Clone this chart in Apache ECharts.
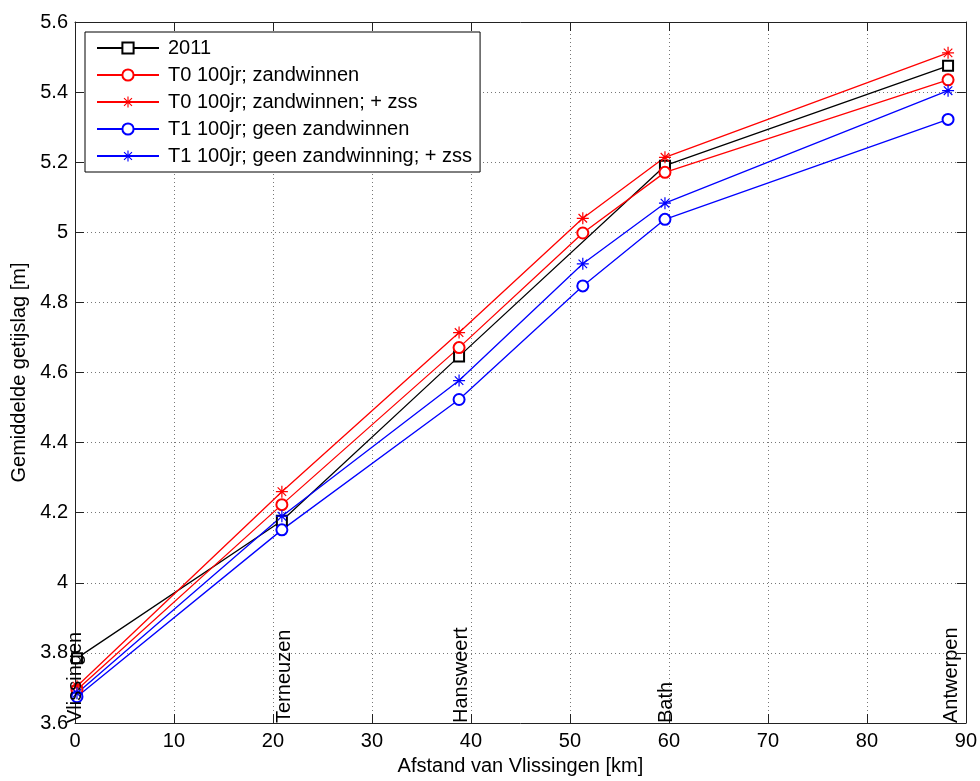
<!DOCTYPE html>
<html>
<head>
<meta charset="utf-8">
<script src="https://cdn.jsdelivr.net/npm/echarts@6/dist/echarts.min.js"></script>
<style>
  html, body { margin: 0; padding: 0; background: #fff; }
  #chart { width: 980px; height: 781px; }
</style>
</head>
<body>
<div id="chart"></div>
<script>
// Distance from Vlissingen [km] of the measuring stations
const stationX = [0.2, 20.9, 38.8, 51.3, 59.6, 88.2];

// Series values (Gemiddelde getijslag [m])
const s2011   = [3.785, 4.177, 4.646, null, 5.19, 5.475];
const sT0     = [3.695, 4.223, 4.671, 4.998, 5.171, 5.435];
const sT0zss  = [3.705, 4.26, 4.714, 5.04, 5.214, 5.512];
const sT1     = [3.675, 4.151, 4.523, 4.847, 5.037, 5.322];
const sT1zss  = [3.685, 4.19, 4.577, 4.91, 5.083, 5.404];

const seriesNames = [
  '2011',
  'T0 100jr; zandwinnen',
  'T0 100jr; zandwinnen; + zss',
  'T1 100jr; geen zandwinnen',
  'T1 100jr; geen zandwinning; + zss'
];

// Station name labels along the x axis
const stationNames = ['Vlissingen', 'Terneuzen', 'Hansweert', 'Bath', 'Antwerpen'];
const stationLabelX = [0.05, 21.2, 39.0, 59.8, 88.5];

// Axis ranges / ticks
const xMin = 0, xMax = 90, xStep = 10;
const yMin = 3.6, yMax = 5.6, yStep = 0.2;

const FONT = 'Liberation Sans, Arial, Helvetica, sans-serif';
const STAR = 'path://M9,0L11,0L11,20L9,20Z M0,9L20,9L20,11L0,11Z M2.2,3.6L3.6,2.2L17.8,16.4L16.4,17.8Z M16.4,2.2L17.8,3.6L3.6,17.8L2.2,16.4Z';

function pairs(ys) {
  return stationX.map((x, i) => [x, ys[i]]);
}

function lineSeries(name, ys, color, symbol, size, hollow) {
  return {
    name: name,
    type: 'line',
    data: pairs(ys),
    connectNulls: true,
    clip: false,
    symbol: symbol,
    symbolSize: size,
    showAllSymbol: true,
    lineStyle: { color: color, width: 1.3 },
    itemStyle: hollow
      ? { color: color, borderColor: color, borderWidth: 1.2 }
      : { color: color, borderWidth: 0 },
    emphasis: { disabled: true },
    z: 3
  };
}

const chart = echarts.init(document.getElementById('chart'), null, { renderer: 'canvas' });

const axisLineStyle = { color: '#222', width: 1 };

chart.setOption({
  animation: false,
  backgroundColor: '#ffffff',
  textStyle: { fontFamily: FONT },
  grid: { left: 75, right: 11, top: 22, bottom: 55, containLabel: false },
  legend: {
    data: seriesNames,
    orient: 'vertical',
    left: 85,
    top: 32,
    padding: [6, 8, 6, 11],
    itemWidth: 62,
    itemHeight: 14,
    itemGap: 7,
    backgroundColor: '#ffffff',
    borderColor: '#000000',
    borderWidth: 1,
    borderRadius: 0,
    selectedMode: false,
    textStyle: { fontSize: 20, color: '#000', fontFamily: FONT, padding: [0, 0, 0, 4] }
  },
  xAxis: [
    {
      type: 'value', min: xMin, max: xMax, interval: xStep,
      name: 'Afstand van Vlissingen [km]',
      nameLocation: 'middle', nameGap: 33,
      nameTextStyle: { fontSize: 20, color: '#000', fontFamily: FONT },
      axisLine: { show: true, lineStyle: axisLineStyle },
      axisTick: { show: true, inside: true, length: 9, lineStyle: axisLineStyle },
      axisLabel: { fontSize: 20, color: '#000', margin: 8, fontFamily: FONT },
      splitLine: { show: true, lineStyle: { color: '#777', type: [1, 3], width: 1 } }
    },
    {
      type: 'value', min: xMin, max: xMax, interval: xStep, position: 'top',
      axisLine: { show: true, onZero: false, lineStyle: axisLineStyle },
      axisTick: { show: true, inside: true, length: 9, lineStyle: axisLineStyle },
      axisLabel: { show: false },
      splitLine: { show: false }
    }
  ],
  yAxis: [
    {
      type: 'value', min: yMin, max: yMax, interval: yStep,
      name: 'Gemiddelde getijslag [m]',
      nameLocation: 'middle', nameGap: 41,
      nameTextStyle: { fontSize: 20, color: '#000', fontFamily: FONT },
      axisLine: { show: true, onZero: false, lineStyle: axisLineStyle },
      axisTick: { show: true, inside: true, length: 9, lineStyle: axisLineStyle },
      axisLabel: { fontSize: 20, color: '#000', margin: 7, fontFamily: FONT },
      splitLine: { show: true, lineStyle: { color: '#777', type: [1, 3], width: 1 } }
    },
    {
      type: 'value', min: yMin, max: yMax, interval: yStep, position: 'right',
      axisLine: { show: true, onZero: false, lineStyle: axisLineStyle },
      axisTick: { show: true, inside: true, length: 9, lineStyle: axisLineStyle },
      axisLabel: { show: false },
      splitLine: { show: false }
    }
  ],
  series: [
    lineSeries(seriesNames[0], s2011, '#000000', 'emptyRect', 10, true),
    lineSeries(seriesNames[1], sT0, '#ff0000', 'emptyCircle', 11, true),
    lineSeries(seriesNames[2], sT0zss, '#ff0000', STAR, 12, false),
    lineSeries(seriesNames[3], sT1, '#0000ff', 'emptyCircle', 11, true),
    lineSeries(seriesNames[4], sT1zss, '#0000ff', STAR, 12, false),
    {
      name: 'stations',
      type: 'scatter',
      data: stationNames.map((n, i) => ({ name: n, value: [stationLabelX[i], yMin] })),
      symbolSize: 1,
      itemStyle: { color: 'rgba(0,0,0,0)', opacity: 1 },
      silent: true,
      clip: false,
      z: 10,
      label: {
        show: true,
        formatter: p => p.name,
        position: 'inside',
        align: 'left',
        verticalAlign: 'middle',
        rotate: 90,
        fontSize: 20,
        color: '#000000',
        opacity: 1,
        fontFamily: FONT
      }
    }
  ]
});
</script>
</body>
</html>
